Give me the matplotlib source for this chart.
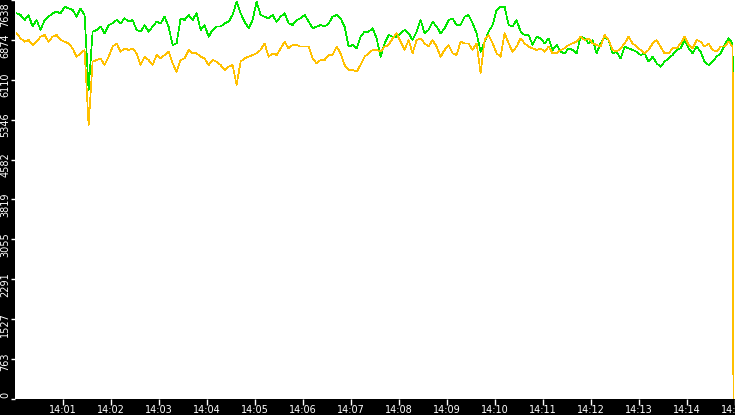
import numpy as np
import pandas as pd
import matplotlib
matplotlib.use("Agg")
import matplotlib.pyplot as plt
import matplotlib.dates as mdates
from matplotlib.transforms import ScaledTranslation

# samples every 5 s starting 14:00:02, plus a last sample just before 14:15
start_time = "2024-01-01 14:00:02"
step_seconds = 5
last_time = "2024-01-01 14:14:58"

green_values = [
    7383, 7351, 7255, 7351, 7128, 7255, 7064, 7255, 7319, 7383, 7415, 7383, 7510, 7478, 7447,
    7319, 7478, 7351, 5915, 7032, 7064, 7128, 7000, 7159, 7191, 7255, 7191, 7287, 7223, 7255,
    7064, 7032, 7159, 7032, 7128, 7223, 7191, 7319, 7128, 6777, 6808, 7287, 7255, 7351, 7255,
    7383, 7064, 7159, 6936, 7064, 7128, 7128, 7191, 7223, 7351, 7606, 7383, 7223, 7096, 7255,
    7606, 7351, 7319, 7287, 7351, 7223, 7319, 7383, 7191, 7159, 7255, 7287, 7351, 7223, 7096,
    7128, 7159, 7128, 7191, 7319, 7351, 7287, 7128, 6745, 6777, 6713, 6936, 7032, 7032, 7096,
    6904, 6553, 6808, 6968, 6936, 6936, 7000, 7064, 7000, 6872, 7032, 7255, 7000, 7064, 7223,
    7128, 7000, 7096, 7255, 7287, 7159, 7159, 7319, 7351, 7191, 7000, 6649, 6840, 7032, 7159,
    7447, 7510, 7510, 7159, 7128, 7255, 7032, 6968, 6968, 6777, 6936, 6904, 6808, 6904, 6681,
    6777, 6649, 6617, 6713, 6681, 6617, 6936, 6904, 6808, 6872, 6617, 6808, 6936, 6872, 6617,
    6649, 6521, 6745, 6713, 6681, 6649, 6585, 6617, 6458, 6553, 6426, 6362, 6458, 6521, 6585,
    6681, 6713, 6872, 6713, 6617, 6745, 6649, 6458, 6394, 6458, 6553, 6617, 6777, 6904, 6808,
]
green_last = 3369

yellow_values = [
    7000, 6904, 6840, 6872, 6777, 6840, 6936, 6968, 6840, 6936, 6968, 6872, 6840, 6808, 6713,
    6553, 6617, 6681, 5245, 6458, 6489, 6521, 6394, 6553, 6745, 6808, 6649, 6713, 6681, 6713,
    6617, 6394, 6553, 6489, 6394, 6585, 6521, 6585, 6649, 6426, 6266, 6489, 6521, 6681, 6617,
    6617, 6553, 6521, 6394, 6489, 6458, 6394, 6298, 6362, 6394, 6011, 6458, 6521, 6553, 6585,
    6617, 6681, 6808, 6553, 6617, 6585, 6713, 6840, 6713, 6777, 6777, 6745, 6745, 6745, 6521,
    6426, 6489, 6489, 6585, 6585, 6745, 6617, 6394, 6298, 6298, 6266, 6394, 6553, 6617, 6681,
    6681, 6649, 6745, 6777, 6904, 7000, 6840, 6681, 6872, 6617, 6872, 6904, 6808, 6745, 6872,
    6745, 6553, 6681, 6777, 6617, 6585, 6840, 6808, 6808, 6681, 6808, 6234, 6872, 6968, 6808,
    6617, 6553, 7000, 6808, 6649, 6745, 6904, 6808, 6745, 6713, 6681, 6713, 6649, 6745, 6617,
    6617, 6681, 6713, 6777, 6808, 6840, 6936, 6872, 6904, 6808, 6777, 6745, 6968, 6872, 6681,
    6649, 6713, 6808, 6936, 6808, 6745, 6681, 6617, 6681, 6808, 6872, 6745, 6617, 6617, 6713,
    6713, 6808, 6936, 6777, 6713, 6872, 6840, 6745, 6808, 6681, 6649, 6745, 6745, 6840, 6745,
]
yellow_last = 0

y_ticks = [0, 763, 1527, 2291, 3055, 3819, 4582, 5346, 6110, 6874, 7638]

times = pd.date_range(start_time, periods=len(green_values), freq=f"{step_seconds}s")
times = times.append(pd.DatetimeIndex([last_time]))
green = green_values + [green_last]
yellow = yellow_values + [yellow_last]

fig = plt.figure(figsize=(7.35, 4.15), dpi=100, facecolor="black")
ax = fig.add_axes([15 / 735, 16 / 415, 720 / 735, 399 / 415])
ax.set_facecolor("white")

ax.plot(times, green, color="#00e600", lw=0.5, antialiased=False)
ax.plot(times, yellow, color="#ffc000", lw=0.5, antialiased=False)

ax.set_xlim(pd.Timestamp("2024-01-01 14:00:00"), pd.Timestamp("2024-01-01 14:15:00"))
ax.set_ylim(0, 7638)

ax.xaxis.set_major_locator(mdates.MinuteLocator(byminute=range(1, 16)))
ax.xaxis.set_major_formatter(mdates.DateFormatter("%H:%M"))
ax.set_yticks(y_ticks)
ax.set_yticklabels([str(v) for v in y_ticks], rotation=90, va="top")

ax.tick_params(axis="x", colors="white", labelsize=7, length=4, width=1, pad=0.5)
ax.tick_params(axis="y", colors="white", labelsize=7, length=3, width=1, pad=0.5)
for s in ax.spines.values():
    s.set_visible(False)

# labels sit a little above their tick, the top one is kept inside the figure
for i, lab in enumerate(ax.get_yticklabels()):
    dy = 7 if i < len(y_ticks) - 1 else -2
    lab.set_transform(lab.get_transform() + ScaledTranslation(0, dy / 100, fig.dpi_scale_trans))

fig.savefig("out.png", dpi=100, facecolor="black")
